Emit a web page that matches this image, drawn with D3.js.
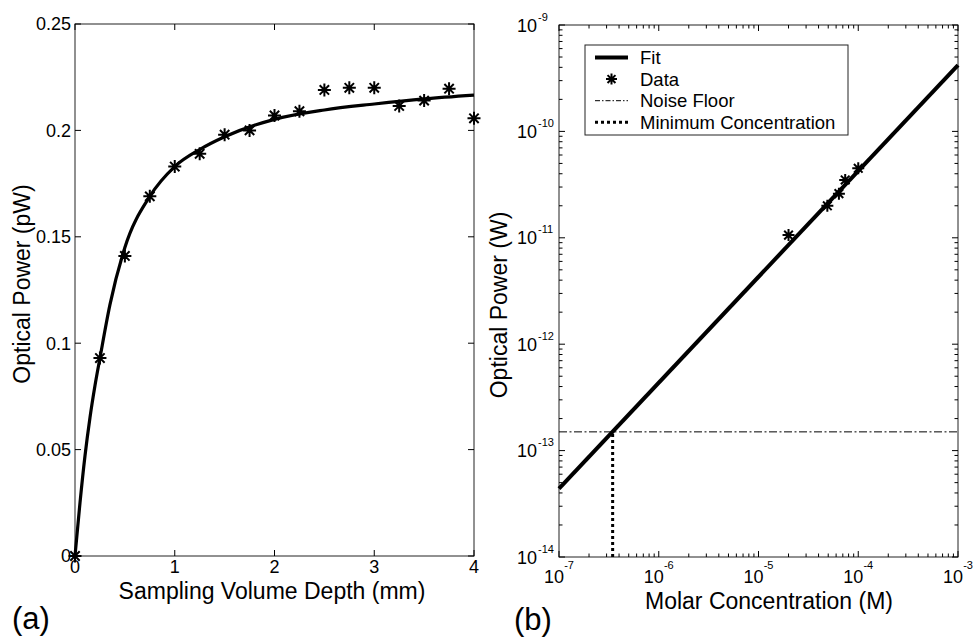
<!DOCTYPE html>
<html>
<head>
<meta charset="utf-8">
<script src="https://cdn.jsdelivr.net/npm/d3@7"></script>
<style>
  body { margin: 0; background: #fff; }
  svg text { font-family: "Liberation Sans", Arial, sans-serif; fill: #000; }
</style>
</head>
<body>
<svg id="fig" width="974" height="639"></svg>
<script>
// (a) optical power vs sampling volume depth
var depthData = [0, 0.25, 0.5, 0.75, 1, 1.25, 1.5, 1.75, 2, 2.25, 2.5, 2.75, 3, 3.25, 3.5, 3.75, 4];
var depthPower = [0, 0.093, 0.141, 0.169, 0.183, 0.189, 0.198, 0.200, 0.207, 0.209, 0.219, 0.220, 0.220, 0.2115, 0.214, 0.2196, 0.2057];
var fitDepth = [0, 0.05, 0.1, 0.15, 0.2, 0.25, 0.35, 0.5, 0.75, 1, 1.25, 1.5, 2, 2.5, 3, 3.5, 4];
var fitDepthPower = [0, 0.025, 0.047, 0.065, 0.080, 0.093, 0.118, 0.145, 0.169, 0.183, 0.191, 0.197, 0.2052, 0.2096, 0.2124, 0.2148, 0.2166];
var depthTicks = [0, 1, 2, 3, 4];
var powerTicks = [0, 0.05, 0.1, 0.15, 0.2, 0.25];
var powerTickLabels = ["0", "0.05", "0.1", "0.15", "0.2", "0.25"];

// (b) optical power vs molar concentration
var concData = [2.0e-5, 4.9e-5, 6.4e-5, 7.4e-5, 1.0e-4];
var concPower = [1.06e-11, 2.0e-11, 2.6e-11, 3.5e-11, 4.5e-11];
var fitConc = [1e-7, 1e-3];
var fitConcPower = [4.4e-14, 4.2e-10];
var noiseFloor = 1.5e-13;
var minConcentration = 3.45e-7;
var concTickExp = [-7, -6, -5, -4, -3];
var wattTickExp = [-14, -13, -12, -11, -10, -9];
var legendLabels = ["Fit", "Data", "Noise Floor", "Minimum Concentration"];

var svg = d3.select("#fig");

function drawStar(g, x, y, r, w) {
    var d = r * 0.72;
    var p = "M" + (x - r) + "," + y + "H" + (x + r) +
            "M" + x + "," + (y - r) + "V" + (y + r) +
            "M" + (x - d) + "," + (y - d) + "L" + (x + d) + "," + (y + d) +
            "M" + (x - d) + "," + (y + d) + "L" + (x + d) + "," + (y - d);
    g.append("path").attr("d", p).attr("stroke", "#000")
        .attr("stroke-width", w).attr("fill", "none");
}

// ---------- panel (a) ----------
var ax = d3.scaleLinear().domain([0, 4]).range([75, 474]);
var ay = d3.scaleLinear().domain([0, 0.25]).range([556, 24]);
var ga = svg.append("g");

ga.append("rect").attr("x", 75).attr("y", 24).attr("width", 399).attr("height", 532)
    .attr("fill", "none").attr("stroke", "#222").attr("stroke-width", 1);

depthTicks.forEach(function(t) {
    var x = ax(t);
    ga.append("line").attr("x1", x).attr("x2", x).attr("y1", 556).attr("y2", 550).attr("stroke", "#000");
    ga.append("line").attr("x1", x).attr("x2", x).attr("y1", 24).attr("y2", 30).attr("stroke", "#000");
    ga.append("text").attr("x", x).attr("y", 573).attr("text-anchor", "middle")
        .style("font-size", "18px").text(t);
});
powerTicks.forEach(function(t, i) {
    var y = ay(t);
    ga.append("line").attr("x1", 75).attr("x2", 81).attr("y1", y).attr("y2", y).attr("stroke", "#000");
    ga.append("line").attr("x1", 474).attr("x2", 468).attr("y1", y).attr("y2", y).attr("stroke", "#000");
    ga.append("text").attr("x", 71).attr("y", y).attr("dy", "0.35em").attr("text-anchor", "end")
        .style("font-size", "18px").text(powerTickLabels[i]);
});

var fitLineA = d3.line().x(function(d, i) { return ax(fitDepth[i]); })
    .y(function(d) { return ay(d); }).curve(d3.curveMonotoneX);
ga.append("path").attr("d", fitLineA(fitDepthPower)).attr("fill", "none")
    .attr("stroke", "#000").attr("stroke-width", 3.2);

depthData.forEach(function(d, i) { drawStar(ga, ax(d), ay(depthPower[i]), 6.5, 2); });

ga.append("text").attr("x", 272).attr("y", 599).attr("text-anchor", "middle")
    .style("font-size", "23px").text("Sampling Volume Depth (mm)");
ga.append("text").attr("transform", "translate(30,284) rotate(-90)").attr("text-anchor", "middle")
    .style("font-size", "23px").text("Optical Power (pW)");
ga.append("text").attr("x", 12).attr("y", 629).style("font-size", "31px").text("(a)");

// ---------- panel (b) ----------
var bx = d3.scaleLog().domain([1e-7, 1e-3]).range([559, 958]);
var by = d3.scaleLog().domain([1e-14, 1e-9]).range([557, 25]);
var gb = svg.append("g");

gb.append("rect").attr("x", 559).attr("y", 25).attr("width", 399).attr("height", 532)
    .attr("fill", "none").attr("stroke", "#222").attr("stroke-width", 1);

bx.ticks().forEach(function(t) {
    var x = bx(t);
    var major = Math.abs(Math.log10(t) - Math.round(Math.log10(t))) < 1e-9;
    var len = major ? 6 : 3.5;
    gb.append("line").attr("x1", x).attr("x2", x).attr("y1", 557).attr("y2", 557 - len).attr("stroke", "#000");
    gb.append("line").attr("x1", x).attr("x2", x).attr("y1", 25).attr("y2", 25 + len).attr("stroke", "#000");
});
by.ticks().forEach(function(t) {
    var y = by(t);
    var major = Math.abs(Math.log10(t) - Math.round(Math.log10(t))) < 1e-9;
    var len = major ? 6 : 3.5;
    gb.append("line").attr("x1", 559).attr("x2", 559 + len).attr("y1", y).attr("y2", y).attr("stroke", "#000");
    gb.append("line").attr("x1", 958).attr("x2", 958 - len).attr("y1", y).attr("y2", y).attr("stroke", "#000");
});

concTickExp.forEach(function(e) {
    var t = gb.append("text").attr("x", bx(Math.pow(10, e))).attr("y", 583)
        .attr("text-anchor", "middle").style("font-size", "18px");
    t.append("tspan").text("10");
    t.append("tspan").attr("dy", -14).style("font-size", "11px").text(e);
});
wattTickExp.forEach(function(e) {
    var y = by(Math.pow(10, e));
    gb.append("text").attr("x", 537).attr("y", y + 6.5).attr("text-anchor", "end")
        .style("font-size", "18px").text("10");
    gb.append("text").attr("x", 538).attr("y", y - 4.5)
        .style("font-size", "11px").text(e);
});

// noise floor and minimum concentration
gb.append("line").attr("x1", bx(1e-7)).attr("x2", bx(1e-3))
    .attr("y1", by(noiseFloor)).attr("y2", by(noiseFloor))
    .attr("stroke", "#000").attr("stroke-width", 1).attr("stroke-dasharray", "8,2.5,2,2.5");
gb.append("line").attr("x1", bx(minConcentration)).attr("x2", bx(minConcentration))
    .attr("y1", by(1e-14)).attr("y2", by(noiseFloor))
    .attr("stroke", "#000").attr("stroke-width", 3).attr("stroke-dasharray", "3,3");

var fitLineB = d3.line().x(function(d, i) { return bx(fitConc[i]); }).y(function(d) { return by(d); });
gb.append("path").attr("d", fitLineB(fitConcPower)).attr("fill", "none")
    .attr("stroke", "#000").attr("stroke-width", 4);

concData.forEach(function(d, i) { drawStar(gb, bx(d), by(concPower[i]), 6, 2); });

// legend
var lg = gb.append("g");
lg.append("rect").attr("x", 585).attr("y", 45).attr("width", 263).attr("height", 90)
    .attr("fill", "#fff").attr("stroke", "#222").attr("stroke-width", 1);
legendLabels.forEach(function(lbl, i) {
    var y = 57.5 + i * 21.6;
    if (i === 0) {
        lg.append("line").attr("x1", 595).attr("x2", 628).attr("y1", y).attr("y2", y)
            .attr("stroke", "#000").attr("stroke-width", 4);
    } else if (i === 1) {
        drawStar(lg, 611.5, y, 5.5, 2);
    } else if (i === 2) {
        lg.append("line").attr("x1", 595).attr("x2", 628).attr("y1", y).attr("y2", y)
            .attr("stroke", "#000").attr("stroke-width", 1).attr("stroke-dasharray", "5,2,1.5,2");
    } else {
        lg.append("line").attr("x1", 595).attr("x2", 628).attr("y1", y).attr("y2", y)
            .attr("stroke", "#000").attr("stroke-width", 3).attr("stroke-dasharray", "3,3");
    }
    lg.append("text").attr("x", 640).attr("y", y).attr("dy", "0.36em")
        .style("font-size", "18.5px").text(lbl);
});

gb.append("text").attr("x", 769).attr("y", 609).attr("text-anchor", "middle")
    .style("font-size", "23px").text("Molar Concentration (M)");
gb.append("text").attr("transform", "translate(507,305) rotate(-90)").attr("text-anchor", "middle")
    .style("font-size", "23px").text("Optical Power (W)");
gb.append("text").attr("x", 514).attr("y", 630).style("font-size", "31px").text("(b)");
</script>
</body>
</html>
